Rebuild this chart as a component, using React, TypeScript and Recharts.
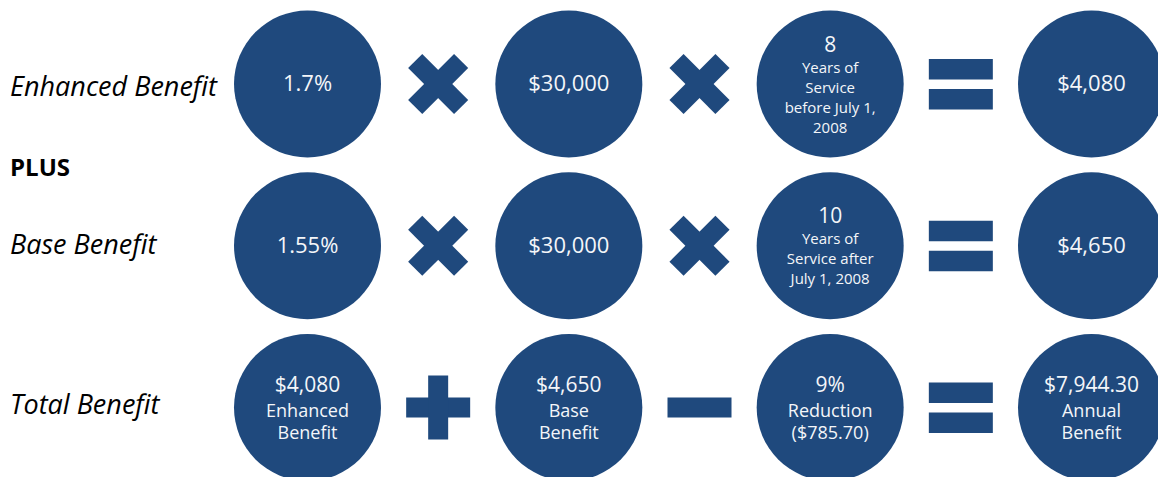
import React from "react";
import { ScatterChart, Scatter, XAxis, YAxis } from "recharts";

const NAVY = "#1f497d";
const TEXT = "#f4f6f9";
const FONT = "'Open Sans', 'Noto Sans', sans-serif";

// row labels on the left (row index -> text)
const labelRows = [0, 0.5, 1, 2];
const labelTexts = ["Enhanced Benefit", "PLUS", "Base Benefit", "Total Benefit"];

// circle contents, one list per row, one entry per column
const enhancedRow = [["1.7%"], ["$30,000"], ["8", "Years of", "Service", "before July 1,", "2008"], ["$4,080"]];
const baseRow = [["1.55%"], ["$30,000"], ["10", "Years of", "Service after", "July 1, 2008"], ["$4,650"]];
const totalRow = [
  ["$4,080", "Enhanced", "Benefit"],
  ["$4,650", "Base", "Benefit"],
  ["9%", "Reduction", "($785.70)"],
  ["$7,944.30", "Annual", "Benefit"],
];

// operators between the columns
const enhancedOps = ["times", "times", "equals"];
const baseOps = ["times", "times", "equals"];
const totalOps = ["plus", "minus", "equals"];

const circleData = [enhancedRow, baseRow, totalRow].flatMap((cells, row) =>
  cells.map((lines, col) => ({ col, row, lines }))
);
const opData = [enhancedOps, baseOps, totalOps].flatMap((ops, row) =>
  ops.map((op, i) => ({ col: i + 0.5, row, op }))
);
const labelData = labelRows.map((row, i) => ({ col: 0, row, label: labelTexts[i], idx: i }));

function CircleShape(props: any) {
  const { cx, cy, payload } = props;
  const lines: string[] = payload.lines;
  const n = lines.length;
  let items: { text: string; y: number; size: number }[] = [];
  if (n === 1) {
    items = [{ text: lines[0], y: cy + 7, size: 22 }];
  } else {
    const small = n === 3 ? 18 : 15;
    const firstStep = n === 3 ? 24.5 : 21;
    const step = n === 3 ? 22 : 20;
    const span = firstStep + step * (n - 2);
    let y = cy - span / 2 + 8;
    items = lines.map((t, i) => {
      if (i > 0) y += i === 1 ? firstStep : step;
      return { text: t, y, size: i === 0 ? 21 : small };
    });
  }
  return (
    <g>
      <circle cx={cx} cy={cy} r={73.5} fill={NAVY} />
      {items.map((it, i) => (
        <text
          key={i}
          x={cx}
          y={it.y}
          textAnchor="middle"
          fill={TEXT}
          fontSize={it.size}
          fontFamily={FONT}
        >
          {it.text}
        </text>
      ))}
    </g>
  );
}

function OpShape(props: any) {
  const { cx, cy, payload } = props;
  const op = payload.op;
  if (op === "times") {
    return (
      <g transform={`translate(${cx},${cy})`} fill={NAVY}>
        <rect x={-32.5} y={-10} width={65} height={20} transform="rotate(45)" />
        <rect x={-32.5} y={-10} width={65} height={20} transform="rotate(-45)" />
      </g>
    );
  }
  if (op === "plus") {
    return (
      <g transform={`translate(${cx},${cy})`} fill={NAVY}>
        <rect x={-32} y={-10} width={64} height={20} />
        <rect x={-10} y={-32} width={20} height={64} />
      </g>
    );
  }
  if (op === "minus") {
    return (
      <g transform={`translate(${cx},${cy})`} fill={NAVY}>
        <rect x={-32} y={-10} width={64} height={20} />
      </g>
    );
  }
  return (
    <g transform={`translate(${cx},${cy})`} fill={NAVY}>
      <rect x={-32} y={-25} width={64} height={20.5} />
      <rect x={-32} y={5} width={64} height={20.5} />
    </g>
  );
}

const labelDy = [12, 11, 8.5, 6];

function RowLabel(props: any) {
  const { cy, payload } = props;
  const idx = payload.idx;
  const isPlus = idx === 1;
  return (
    <text
      x={10}
      y={cy + labelDy[idx]}
      textAnchor="start"
      fill="#000"
      fontFamily={FONT}
      fontSize={isPlus ? 24 : 27}
      fontStyle={isPlus ? "normal" : "italic"}
      fontWeight={isPlus ? 700 : 400}
    >
      {payload.label}
    </text>
  );
}

export default function App() {
  return (
    <div style={{ position: "absolute", left: 0, top: 0, width: 1158, height: 477, background: "#fff" }}>
      <ScatterChart
        width={1158}
        height={477}
        margin={{ top: 84, right: 66.5, bottom: 69.5, left: 307.5 }}
      >
        <XAxis type="number" dataKey="col" domain={[0, 3]} hide />
        <YAxis type="number" dataKey="row" domain={[0, 2]} reversed hide />
        <Scatter data={labelData} shape={(p: any) => <RowLabel {...p} />} isAnimationActive={false} />
        <Scatter data={opData} shape={(p: any) => <OpShape {...p} />} isAnimationActive={false} />
        <Scatter data={circleData} shape={(p: any) => <CircleShape {...p} />} isAnimationActive={false} />
      </ScatterChart>
    </div>
  );
}
